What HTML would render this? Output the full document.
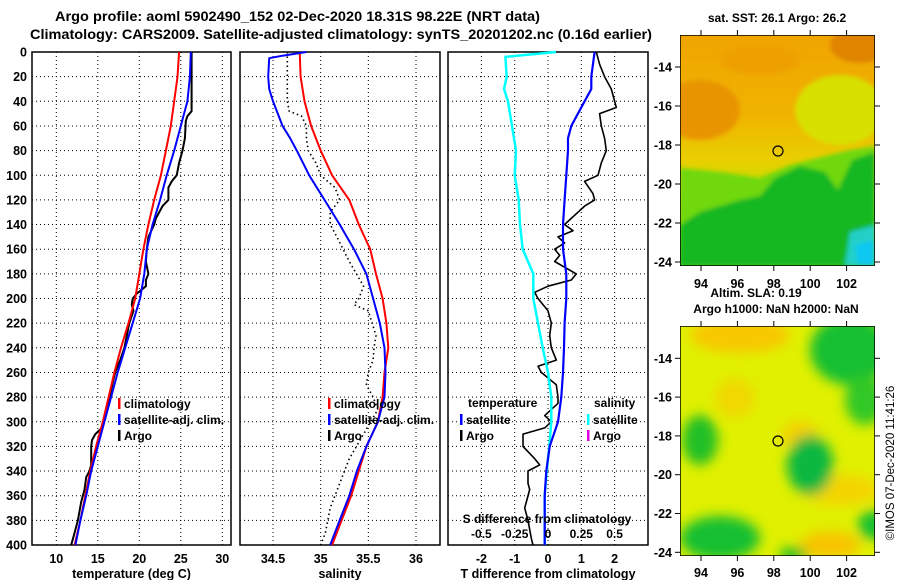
<!DOCTYPE html>
<html><head><meta charset="utf-8">
<style>
html,body{margin:0;padding:0;background:#fff;}
svg{display:block;font-family:"Liberation Sans",sans-serif;font-weight:bold;}
</style></head>
<body>
<svg id="fig" width="900" height="580" viewBox="0 0 900 580" xmlns="http://www.w3.org/2000/svg">
<defs>
<filter id="blur6" x="-20%" y="-20%" width="140%" height="140%"><feGaussianBlur stdDeviation="6"/></filter>
<filter id="blur2"><feGaussianBlur stdDeviation="2"/></filter>
<clipPath id="m1c"><rect x="680" y="35" width="195" height="231"/></clipPath>
<clipPath id="m2c"><rect x="680" y="326" width="195" height="230"/></clipPath>
<linearGradient id="m1g" x1="0" y1="0" x2="0" y2="1">
<stop offset="0" stop-color="#f0a400"/><stop offset="0.35" stop-color="#f0b400"/><stop offset="0.55" stop-color="#e8d000"/><stop offset="0.7" stop-color="#b8e000"/><stop offset="1" stop-color="#60d010"/>
</linearGradient>
</defs>
<text x="55" y="21" font-size="13.5" textLength="485" lengthAdjust="spacingAndGlyphs">Argo profile: aoml 5902490_152 02-Dec-2020 18.31S 98.22E (NRT data)</text>
<text x="30" y="39" font-size="13.5" textLength="622" lengthAdjust="spacingAndGlyphs">Climatology: CARS2009. Satellite-adjusted climatology: synTS_20201202.nc (0.16d earlier)</text>
<g id="p1"></g>
<g id="p2"></g>
<g id="p3"></g>

<text x="777" y="22" font-size="12" text-anchor="middle">sat. SST: 26.1 Argo: 26.2</text>
<g clip-path="url(#m1c)">
<rect x="680" y="35" width="195" height="231" fill="url(#m1g)"/>
<g filter="url(#blur2)">
<ellipse cx="700" cy="110" rx="40" ry="30" fill="#e89400"/>
<ellipse cx="860" cy="45" rx="30" ry="18" fill="#e08400"/>
<ellipse cx="760" cy="60" rx="40" ry="15" fill="#eea000"/>
<ellipse cx="840" cy="110" rx="45" ry="35" fill="#d8e000"/>
<polygon points="680,168 720,172 760,178 790,165 850,150 875,146 875,266 680,266" fill="#70d810"/>
<polygon points="680,225 700,212 740,200 760,196 775,178 800,166 825,172 838,190 852,160 875,152 875,266 680,266" fill="#18b820"/>
<polygon points="850,232 875,225 875,266 845,266" fill="#20d0c8"/>
<polygon points="855,245 875,240 875,266 858,266" fill="#10c8f0"/>
</g>
<rect x="680" y="35" width="195" height="231" fill="none" stroke="#000" stroke-width="1.5"/>
</g>
<circle cx="778" cy="151" r="5" fill="none" stroke="#000" stroke-width="1.2"/>
<g id="m1axes"></g>
<text x="756" y="297" font-size="12" text-anchor="middle">Altim. SLA: 0.19</text>
<text x="776" y="313" font-size="12" text-anchor="middle">Argo h1000: NaN h2000: NaN</text>

<g clip-path="url(#m2c)">
<rect x="680" y="326" width="195" height="230" fill="#e0f000"/>
<g filter="url(#blur6)">
<ellipse cx="740" cy="335" rx="50" ry="18" fill="#f8c800"/>
<ellipse cx="735" cy="398" rx="20" ry="20" fill="#f0d800"/>
<ellipse cx="800" cy="435" rx="18" ry="14" fill="#f4d000"/>
<ellipse cx="840" cy="490" rx="40" ry="15" fill="#f4d400"/>
<ellipse cx="830" cy="545" rx="30" ry="14" fill="#f8c400"/>
<ellipse cx="850" cy="350" rx="40" ry="35" fill="#18c030"/>
<ellipse cx="865" cy="400" rx="20" ry="25" fill="#30c828"/>
<ellipse cx="810" cy="465" rx="23" ry="30" fill="#10b840"/>
<ellipse cx="700" cy="440" rx="18" ry="25" fill="#20c028"/>
<ellipse cx="720" cy="538" rx="40" ry="22" fill="#18c030"/>
<ellipse cx="872" cy="525" rx="14" ry="15" fill="#18c030"/>
<ellipse cx="793" cy="555" rx="14" ry="8" fill="#20c028"/>
</g>
<rect x="680" y="326" width="195" height="230" fill="none" stroke="#000" stroke-width="1.5"/>
</g>
<circle cx="778" cy="441" r="5" fill="none" stroke="#000" stroke-width="1.2"/>
<g id="m2axes"></g>
<text transform="translate(894,463) rotate(-90)" font-size="11.5" font-weight="normal" text-anchor="middle">©IMOS 07-Dec-2020 11:41:26</text>
</svg>
<script>
const climDepth = [0,20,40,60,80,100,120,140,160,180,200,220,240,260,280,300,320,340,360,380,400];
const climTemp  = [24.8,24.6,24.2,23.8,23.2,22.6,21.8,21.1,20.5,20.0,19.5,18.7,17.8,17.0,16.3,15.6,14.8,14.1,13.5,12.9,12.2];
const satTemp   = [26.2,26.1,25.8,25.0,24.2,23.3,22.5,21.6,20.9,20.6,20.1,19.2,18.3,17.4,16.6,15.8,15.0,14.2,13.6,12.9,12.3];
const climSal   = [34.78,34.79,34.83,34.9,35.0,35.12,35.3,35.4,35.52,35.58,35.65,35.69,35.71,35.67,35.65,35.6,35.48,35.4,35.32,35.22,35.12];
const satSalDepth = [0,3,5,20,30,40,50,60,70,80,100,120,140,160,180,200,220,240,260,280,300,320,340,360,380,400];
const satSal    = [34.85,34.6,34.46,34.45,34.46,34.5,34.55,34.6,34.68,34.75,34.88,35.04,35.2,35.35,35.48,35.55,35.62,35.67,35.68,35.67,35.6,35.48,35.38,35.3,35.2,35.1];
const argoDepth = [0,10,20,30,40,48,52,56,70,80,90,100,105,110,120,125,135,140,150,160,170,180,185,190,196,200,205,210,220,240,250,260,265,280,295,305,310,315,320,335,340,345,355,365,380,390,400];
const argoTemp  = [26.3,26.3,26.3,26.3,26.3,26.3,25.8,25.6,25.5,25.2,24.8,24.5,23.9,23.5,23.5,22.8,22.0,21.8,21.1,20.9,20.8,21.1,20.8,20.8,19.7,19.2,19.1,19.3,18.8,18.2,17.7,17.1,16.9,16.4,15.9,15.5,14.7,14.3,14.2,14.2,14.0,13.6,13.4,13.0,12.6,12.2,11.8];
const argoSalDepth = [0,20,40,48,52,60,70,80,90,100,110,120,130,140,150,170,190,200,205,210,230,240,250,260,270,280,290,310,330,350,370,390,400];
const argoSal   = [34.65,34.65,34.65,34.67,34.8,34.85,34.85,34.87,34.95,35.0,35.15,35.2,35.1,35.1,35.17,35.3,35.45,35.4,35.35,35.5,35.58,35.56,35.55,35.5,35.48,35.55,35.6,35.45,35.3,35.2,35.1,35.05,35.0];
const satTDiffDepth = [0,20,30,40,60,70,80,100,120,140,160,180,200,220,240,260,280,300,320,340,360,380,400];
const satTDiff  = [1.4,1.3,1.3,1.1,0.7,0.6,0.6,0.55,0.5,0.45,0.45,0.55,0.55,0.5,0.48,0.45,0.4,0.3,0.05,-0.05,-0.1,-0.1,-0.1];
const satSDiffDepth = [0,4,20,30,40,60,80,100,120,140,160,180,200,220,240,260,280,300,320,340,360,400];
const satSDiff  = [0.06,-0.32,-0.31,-0.33,-0.3,-0.27,-0.24,-0.25,-0.22,-0.21,-0.19,-0.11,-0.11,-0.075,-0.04,0,0.025,0.025,0.01,-0.01,-0.025,-0.025];
const argoTDiffDepth = [0,10,20,30,45,50,60,70,80,90,100,105,115,120,125,130,140,145,150,155,160,165,170,180,185,190,195,200,210,220,230,240,250,255,260,270,280,285,295,300,305,310,320,330,335,340,350,355,370,380,395,400];
const argoTDiff = [1.45,1.55,1.7,1.9,2.05,1.55,1.6,1.7,1.75,1.6,1.5,1.1,1.35,1.4,1.1,0.9,0.5,0.75,0.3,0.5,0.2,0.35,0.2,0.85,0.7,0.0,-0.4,-0.3,0,0.1,0.05,0.1,0.25,-0.3,-0.2,0.25,0.3,0.3,-0.1,0.1,-0.1,-0.75,-0.75,-0.4,-0.25,-0.6,-0.6,-0.55,-0.7,-0.6,-0.5,-0.45];
const depthTicks = [0,20,40,60,80,100,120,140,160,180,200,220,240,260,280,300,320,340,360,380,400];
const tempTicks = [10,15,20,25,30];
const salTicks = [34.5,35,35.5,36];
const tDiffTicks = [-2,-1,0,1,2];
const sDiffTicks = [-0.5,-0.25,0,0.25,0.5];
const sDiffTickLabels = ["-0.5","-0.25","0","0.25","0.5"];
const lonTicks = [94,96,98,100,102];
const latTicks = [-14,-16,-18,-20,-22,-24];

const NS = "http://www.w3.org/2000/svg";
const yD = d => 52 + d * 1.2325;
const xT = t => 56.3 + (t - 10) * 8.3;
const xS = s => 273 + (s - 34.5) * 95.33;
const xTD = d => 548 + d * 33.3;
const xSD = s => 548 + s * 133.2;
const lonX = lon => 701 + (lon - 94) * 18.2;
const lat1Y = lat => 67 + (-14 - lat) * 19.5;
const lat2Y = lat => 358.3 + (-14 - lat) * 19.4;

function mk(tag, attrs, parent) {
  const e = document.createElementNS(NS, tag);
  for (const k in attrs) e.setAttribute(k, attrs[k]);
  parent.appendChild(e);
  return e;
}
function pathD(xs, ys, fx) {
  return xs.map((v, i) => (i ? "L" : "M") + fx(v).toFixed(1) + "," + yD(ys[i]).toFixed(1)).join("");
}
function panel(g, x0, x1, vTicks, fx, tickLabels, xTitle, showY) {
  for (const d of depthTicks) {
    const l = mk("line", {x1: x0, x2: x1, y1: yD(d), y2: yD(d), stroke: "#000", "stroke-width": 1, "stroke-dasharray": "1,3"}, g);
    
    
    if (showY) {
      const t = mk("text", {x: 27, y: yD(d) + 4.5, "font-size": 12.5, "text-anchor": "end"}, g);
      t.textContent = d;
      
      
    }
  }
  vTicks.forEach((v, i) => {
    const l = mk("line", {x1: fx(v), x2: fx(v), y1: 52, y2: 545, stroke: "#000", "stroke-width": 1, "stroke-dasharray": "1,3"}, g);
    
    
    const t = mk("text", {x: fx(v), y: 563, "font-size": 12.5, "text-anchor": "middle"}, g);
    t.textContent = tickLabels[i];
    
    
  });
  const r = mk("rect", {x: x0, y: 52, width: x1 - x0, height: 493, fill: "none", stroke: "#000", "stroke-width": 1.5}, g);
  
  
  const tt = mk("text", {x: (x0 + x1) / 2, y: 578, "font-size": 12.5, "text-anchor": "middle"}, g);
  tt.textContent = xTitle;
  
  
}
function line(g, d, color, w, name, dash) {
  const p = mk("path", {d: d, fill: "none", stroke: color, "stroke-width": w, "stroke-linejoin": "round"}, g);
  if (dash) p.setAttribute("stroke-dasharray", dash);
  
  
}
function legend(g, x, y, color, label, name) {
  const m = mk("rect", {x: x, y: y - 10, width: 2.5, height: 11, fill: color}, g);
  
  
  const t = mk("text", {x: x + 6, y: y, "font-size": 12}, g);
  t.textContent = label;
  
  
}

const p1 = document.getElementById("p1");
panel(p1, 32, 231, tempTicks, xT, tempTicks.map(String), "temperature (deg C)", true);
line(p1, pathD(argoTemp, argoDepth, xT), "#000", 2, "argo-temperature-line");
line(p1, pathD(climTemp, climDepth, xT), "#f00", 2, "climatology-temperature-line");
line(p1, pathD(satTemp, climDepth, xT), "#00f", 2, "satellite-temperature-line");
legend(p1, 118, 408, "#f00", "climatology", "legend-climatology");
legend(p1, 118, 424, "#00f", "satellite-adj. clim.", "legend-satellite-adj");
legend(p1, 118, 440, "#000", "Argo", "legend-argo");

const p2 = document.getElementById("p2");
panel(p2, 240, 440, salTicks, xS, salTicks.map(String), "salinity", false);
line(p2, pathD(argoSal, argoSalDepth, xS), "#000", 1.6, "argo-salinity-line", "1.5,3");
line(p2, pathD(climSal, climDepth, xS), "#f00", 2, "climatology-salinity-line");
line(p2, pathD(satSal, satSalDepth, xS), "#00f", 2, "satellite-salinity-line");
legend(p2, 328, 408, "#f00", "climatology", "legend-climatology");
legend(p2, 328, 424, "#00f", "satellite-adj. clim.", "legend-satellite-adj");
legend(p2, 328, 440, "#000", "Argo", "legend-argo");

const p3 = document.getElementById("p3");
panel(p3, 448, 648, tDiffTicks, xTD, tDiffTicks.map(String), "T difference from climatology", false);
line(p3, pathD(argoTDiff, argoTDiffDepth, xTD), "#000", 1.6, "argo-t-difference-line");
line(p3, pathD(satSDiff, satSDiffDepth, xSD), "#00ffff", 2.5, "satellite-s-difference-line");
line(p3, pathD(satTDiff, satTDiffDepth, xTD), "#00f", 2.2, "satellite-t-difference-line");
{
  const h1 = mk("text", {x: 468, y: 407, "font-size": 12}, p3); h1.textContent = "temperature";
  
  
  const h2 = mk("text", {x: 594, y: 407, "font-size": 12}, p3); h2.textContent = "salinity";
  
  
}
legend(p3, 460, 424, "#00f", "satellite", "legend-t-satellite");
legend(p3, 460, 440, "#000", "Argo", "legend-t-argo");
legend(p3, 587, 424, "#00ffff", "satellite", "legend-s-satellite");
legend(p3, 587, 440, "#e000e0", "Argo", "legend-s-argo");
{
  const st = mk("text", {x: 547, y: 523, "font-size": 12, "text-anchor": "middle"}, p3);
  st.textContent = "S difference from climatology";
  
  
  sDiffTicks.forEach((v, i) => {
    const t = mk("text", {x: xSD(v), y: 538, "font-size": 12, "text-anchor": "middle"}, p3);
    t.textContent = sDiffTickLabels[i];
    
    
  });
}

function mapAxes(g, top, bottom, latY, lonLabelY) {
  for (const lat of latTicks) {
    const y = latY(lat);
    const t = mk("text", {x: 672, y: y + 4.5, "font-size": 12.5, "text-anchor": "end"}, g);
    t.textContent = lat;
    
    
    mk("line", {x1: 675, x2: 680, y1: y, y2: y, stroke: "#000"}, g);
    mk("line", {x1: 875, x2: 880, y1: y, y2: y, stroke: "#000"}, g);
  }
  for (const lon of lonTicks) {
    const x = lonX(lon);
    const t = mk("text", {x: x, y: lonLabelY, "font-size": 12.5, "text-anchor": "middle"}, g);
    t.textContent = lon;
    
    
    mk("line", {x1: x, x2: x, y1: top - 5, y2: top, stroke: "#000"}, g);
    mk("line", {x1: x, x2: x, y1: bottom, y2: bottom + 5, stroke: "#000"}, g);
  }
}
mapAxes(document.getElementById("m1axes"), 35, 266, lat1Y, 288);
mapAxes(document.getElementById("m2axes"), 326, 556, lat2Y, 577);
</script>
</body></html>
